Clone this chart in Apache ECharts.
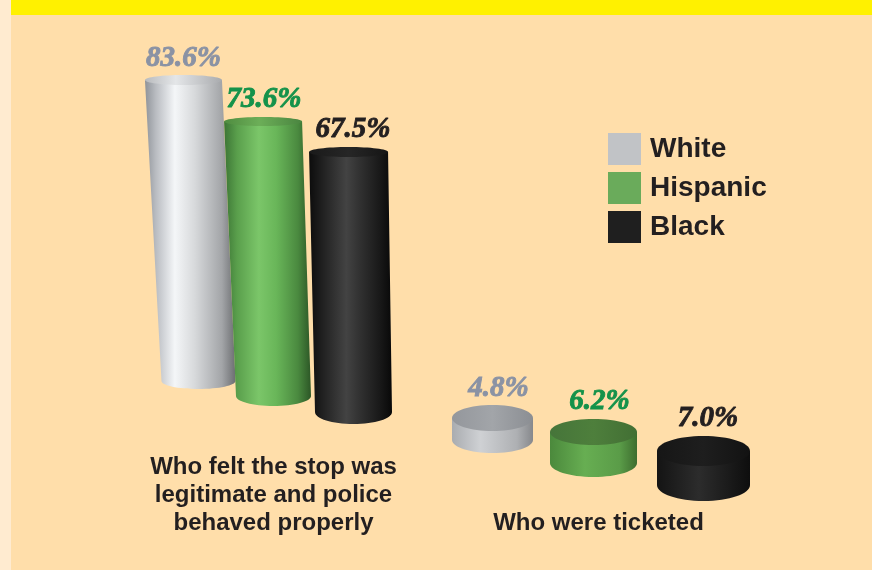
<!DOCTYPE html>
<html><head><meta charset="utf-8">
<script src="https://cdn.jsdelivr.net/npm/echarts@6/dist/echarts.min.js"></script>
<style>html,body{margin:0;padding:0;background:#FFDEAA;} #c{width:872px;height:570px;}</style>
</head><body><div id="c"></div>
<script>
// ---- data ----
const categories = ['Who felt the stop was\nlegitimate and police\nbehaved properly', 'Who were ticketed'];
const seriesNames = ['White', 'Hispanic', 'Black'];
const whiteValues = [83.6, 4.8];
const hispanicValues = [73.6, 6.2];
const blackValues = [67.5, 7.0];

// ---- styles / pseudo-3D layout (per series, per category) ----
const layout = {
  White: [
    {dx: -75, dy: -59, rxT: 38.5, rxB: 37, ryT: 5, ryB: 8, k: 1.0, lean: 0.05, ldx: 0},
    {dx: -106, dy: 0, rxT: 40.5, rxB: 40.5, ryT: 13, ryB: 13, k: 1.27, lean: 0, ldx: 6}
  ],
  Hispanic: [
    {dx: 0, dy: -44, rxT: 39, rxB: 37.5, ryT: 4.5, ryB: 10, k: 1.036, lean: 0.038, ldx: 1},
    {dx: -5, dy: 23, rxT: 43.5, rxB: 43.5, ryT: 13, ryB: 14, k: 1.39, lean: 0, ldx: 6}
  ],
  Black: [
    {dx: 80, dy: -28, rxT: 39.5, rxB: 38.5, ryT: 5, ryB: 12, k: 1.07, lean: 0.019, ldx: 4.5},
    {dx: 105, dy: 45, rxT: 46.5, rxB: 46.5, ryT: 15, ryB: 16, k: 1.35, lean: 0, ldx: 4.5}
  ]
};
const palette = {
  White: {
    legend: '#C1C3C6', label: '#8A92A4',
    side: [[[0,'#8f9399'],[0.12,'#b9bcc1'],[0.33,'#f4f6f8'],[0.55,'#d7d9db'],[0.85,'#a3a5a8'],[1,'#6c6e71']],
           [[0,'#a9acb0'],[0.35,'#cfd1d4'],[0.8,'#aeb0b3'],[1,'#86888c']]],
    top: [[[0,'#b9bbbe'],[0.4,'#e4e6e8'],[1,'#a9abae']],
          [[0,'#94979c'],[0.5,'#a2a5a9'],[1,'#8b8e93']]]
  },
  Hispanic: {
    legend: '#6AAB5B', label: '#14924A',
    side: [[[0,'#3c7535'],[0.15,'#5a9f4c'],[0.4,'#7bc669'],[0.6,'#69b659'],[0.85,'#4a893f'],[1,'#2c5626']],
           [[0,'#4b893c'],[0.4,'#67ae52'],[0.8,'#5a9c48'],[1,'#3d6d2f']]],
    top: [[[0,'#4f8c40'],[0.45,'#6cae58'],[1,'#4a8540']],
          [[0,'#46753a'],[0.5,'#4e7f3c'],[1,'#426f34']]]
  },
  Black: {
    legend: '#1F1F1F', label: '#231F20',
    side: [[[0,'#0c0c0c'],[0.2,'#252525'],[0.45,'#434343'],[0.6,'#323232'],[0.85,'#191919'],[1,'#080808']],
           [[0,'#141414'],[0.45,'#2c2c2c'],[1,'#0e0e0e']]],
    top: [[[0,'#1a1a1a'],[0.5,'#262626'],[1,'#151515']],
          [[0,'#161616'],[0.5,'#1e1e1e'],[1,'#121212']]]
  }
};

const K = 0.5523;
const CylBody = echarts.graphic.extendShape({
  shape: {tx: 0, ty: 0, bx: 0, by: 0, rxT: 0, rxB: 0, ryB: 0},
  buildPath(ctx, s) {
    ctx.moveTo(s.tx - s.rxT, s.ty);
    ctx.lineTo(s.bx - s.rxB, s.by);
    ctx.bezierCurveTo(s.bx - s.rxB, s.by + K * s.ryB, s.bx - K * s.rxB, s.by + s.ryB, s.bx, s.by + s.ryB);
    ctx.bezierCurveTo(s.bx + K * s.rxB, s.by + s.ryB, s.bx + s.rxB, s.by + K * s.ryB, s.bx + s.rxB, s.by);
    ctx.lineTo(s.tx + s.rxT, s.ty);
    ctx.closePath();
  }
});
const CylTop = echarts.graphic.extendShape({
  shape: {cx: 0, cy: 0, rx: 0, ry: 0},
  buildPath(ctx, s) {
    const {cx, cy, rx, ry} = s;
    ctx.moveTo(cx - rx, cy);
    ctx.bezierCurveTo(cx - rx, cy - K * ry, cx - K * rx, cy - ry, cx, cy - ry);
    ctx.bezierCurveTo(cx + K * rx, cy - ry, cx + rx, cy - K * ry, cx + rx, cy);
    ctx.bezierCurveTo(cx + rx, cy + K * ry, cx + K * rx, cy + ry, cx, cy + ry);
    ctx.bezierCurveTo(cx - K * rx, cy + ry, cx - rx, cy + K * ry, cx - rx, cy);
    ctx.closePath();
  }
});
echarts.graphic.registerShape('cylBody', CylBody);
echarts.graphic.registerShape('cylTop', CylTop);

const grad = (stops) => new echarts.graphic.LinearGradient(0, 0, 1, 0,
  stops.map(s => ({offset: s[0], color: s[1]})));

function makeRender(name) {
  return function (params, api) {
    const i = api.value(0);
    const v = api.value(1);
    const L = layout[name][i];
    const P = palette[name];
    const base = api.coord([i, 0]);
    const hPx = (base[1] - api.coord([i, v])[1]) * L.k;
    const bx = base[0] + L.dx, by = base[1] + L.dy;
    const tx = bx - L.lean * hPx, ty = by - hPx;
    const variant = i === 0 ? 0 : 1;
    return {
      type: 'group',
      children: [
        {type: 'cylBody', shape: {tx, ty, bx, by, rxT: L.rxT, rxB: L.rxB, ryB: L.ryB},
         style: {fill: grad(P.side[variant])}},
        {type: 'cylTop', shape: {cx: tx, cy: ty, rx: L.rxT, ry: L.ryT},
         style: {fill: grad(P.top[variant])}},
        {type: 'text', x: tx + L.ldx, y: ty - L.ryT - 17,
         style: {text: v.toFixed(1) + '%', fill: P.label, align: 'center', verticalAlign: 'middle',
                 fontFamily: '"Liberation Serif", "DejaVu Serif", serif', fontStyle: 'italic',
                 fontWeight: 'bold', fontSize: 29,
                 stroke: P.label, lineWidth: 0.9}}
      ]
    };
  };
}

const valuesBySeries = {White: whiteValues, Hispanic: hispanicValues, Black: blackValues};

const chart = echarts.init(document.getElementById('c'), null, {renderer: 'canvas'});
chart.setOption({
  backgroundColor: '#FFDEAA',
  animation: false,
  graphic: [
    {type: 'rect', z: -1, shape: {x: 0, y: 0, width: 11, height: 570}, style: {fill: '#FFEBD0'}},
    {type: 'rect', z: -1, shape: {x: 11, y: 0, width: 861, height: 15}, style: {fill: '#FFF100'}}
  ],
  grid: {left: 111, width: 650, top: 80, bottom: 130},
  legend: {
    orient: 'vertical', left: 603, top: 128, itemWidth: 33, itemHeight: 32, itemGap: 7,
    icon: 'rect',
    data: seriesNames.map(n => ({name: n, itemStyle: {color: palette[n].legend}})),
    textStyle: {fontSize: 28, fontWeight: 'bold', color: '#231F20',
                fontFamily: '"Liberation Sans", Arial, sans-serif', padding: [0, 0, 0, 4]}
  },
  xAxis: {
    type: 'category', data: categories,
    axisLine: {show: false}, axisTick: {show: false}, splitLine: {show: false},
    axisLabel: {
      interval: 0, margin: 13, fontSize: 24, fontWeight: 'bold', lineHeight: 28,
      color: '#231F20', fontFamily: '"Liberation Sans", Arial, sans-serif',
      formatter: (v, idx) => idx === 1 ? '\n\n' + v : v
    }
  },
  yAxis: {type: 'value', min: 0, max: 100, show: false},
  series: seriesNames.map(n => ({
    name: n, type: 'custom',
    itemStyle: {color: palette[n].legend},
    encode: {x: 0, y: 1},
    renderItem: makeRender(n),
    data: valuesBySeries[n].map((v, i) => [i, v])
  }))
});
</script>
</body></html>
